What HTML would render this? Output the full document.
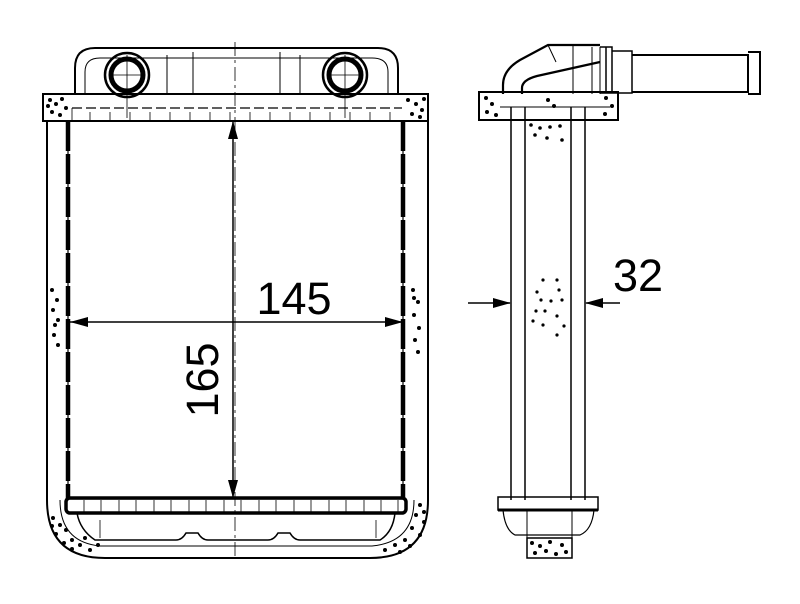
<!DOCTYPE html>
<html><head><meta charset="utf-8"><style>html,body{margin:0;padding:0;background:#fff}svg{display:block}</style></head>
<body>
<svg width="800" height="604" viewBox="0 0 800 604" xmlns="http://www.w3.org/2000/svg" font-family="Liberation Sans, sans-serif">
<g fill="none" stroke="#000" stroke-width="1.5">
<path d="M75 95 V68 Q75 48 95 48 H378 Q398 48 398 68 V95" stroke-width="2"/>
<path d="M85 95 V72 Q85 58 100 58 H372 Q388 58 388 72 V95" stroke-width="1"/>
<path d="M167 95 V55 M193 95 V52 M280 95 V52 M300 95 V55" stroke-width="1"/>
<circle cx="127" cy="75" r="22" stroke-width="2.5"/><circle cx="127" cy="75" r="16" stroke-width="5"/>
<circle cx="345" cy="75" r="22" stroke-width="2.5"/><circle cx="345" cy="75" r="16" stroke-width="5"/>
<path d="M127 55 V118 M110 75 H144 M345 55 V118 M328 75 H362" stroke-width="0.8"/>
<rect x="43" y="94" width="385" height="27" stroke-width="2"/>
<path d="M72 108 H402" stroke-dasharray="10 4" stroke-width="1.2"/>
<path d="M47 121 V500 Q47 558 105 558 H370 Q428 558 428 500 V121" stroke-width="2"/>
<rect x="68" y="121" width="335" height="378" stroke-width="1.2"/>
<path d="M68 121 V499 M403 121 V499" stroke-width="4.5" stroke-dasharray="30 3"/>
<path d="M72 108 V121 M90 112 V121 M110 112 V121 M130 112 V121 M150 112 V121 M170 112 V121 M190 112 V121 M210 112 V121 M230 112 V121 M250 112 V121 M270 112 V121 M290 112 V121 M310 112 V121 M330 112 V121 M350 112 V121 M370 112 V121 M390 112 V121" stroke-width="0.8"/>
<rect x="66" y="498" width="340" height="15" rx="4" stroke-width="3.5"/>
<path d="M84 500 V512 M101 500 V512 M119 500 V512 M136 500 V512 M154 500 V512 M171 500 V512 M189 500 V512 M206 500 V512 M224 500 V512 M241 500 V512 M259 500 V512 M276 500 V512 M294 500 V512 M311 500 V512 M329 500 V512 M346 500 V512 M364 500 V512 M381 500 V512 M398 500 V512" stroke-width="0.8"/>
<path d="M77 513 Q80 530 95 540 H176 Q182 540 186 533 H198 Q202 540 208 540 H268 Q274 540 278 533 H290 Q294 540 300 540 H380 Q393 532 395 513" stroke-width="1.5"/>
<path d="M100 520 V538 M376 520 V538" stroke-width="0.8"/>
<path d="M60 500 Q60 542 100 546 H372 Q414 542 414 500" stroke-width="1"/>
<path d="M235 42 V556" stroke-width="0.8" stroke-dasharray="14 4 3 4"/>
<path d="M233 121 V498 M70 322 H403" stroke-width="1.5"/>
</g>
<g fill="#000">
<path d="M233 121 l-5 18 h10z M233 498 l-5 -18 h10z M70 322 l18 -5 v10z M403 322 l-18 -5 v10z"/>
<text x="294" y="314" font-size="45" text-anchor="middle">145</text>
<text transform="translate(218 380) rotate(-90)" font-size="45" text-anchor="middle">165</text>
</g>
<g fill="none" stroke="#000" stroke-width="1.5">
<path d="M503 94 V85 Q503 70 520 60 L548 45 H600 M522 94 V88 Q522 80 537 76 L600 62" stroke-width="2.2"/>
<path d="M548 45 L556 62 M573 46 V94 M592 47 V94 M600 47 V94" stroke-width="1"/>
<path d="M600 47 H612 V93 H600 M606 47 V93 M612 51 H632 V93 H612" stroke-width="1.5"/>
<path d="M632 55 H748 V92 H632 M748 52 H760 V94 H748" stroke-width="2"/>
<rect x="479" y="92" width="139" height="28" stroke-width="2"/>
<path d="M500 107 H610" stroke-width="1"/>
<path d="M511 107 V500 M525 107 V500 M571 107 V500 M585 107 V500" stroke-width="1.5"/>
<path d="M498 497 H598 V510 H498Z" stroke-width="1.5"/>
<path d="M498 510 H598" stroke-width="3"/>
<path d="M503 510 Q505 530 515 535 H580 Q592 530 594 510" stroke-width="1.2"/>
<rect x="527" y="538" width="45" height="20" stroke-width="1.5"/>
<path d="M527 510 V538 M572 510 V538" stroke-width="1"/>
<path d="M468 303 H510 M586 303 H620" stroke-width="1.5"/>
</g>
<g fill="#000">
<path d="M511 303 l-18 -5 v10z M585 303 l18 -5 v10z"/>
<text x="638" y="291" font-size="45" text-anchor="middle">32</text>
</g>
<g fill="#000">
<circle cx="50" cy="100" r="2"/><circle cx="56" cy="104" r="2"/><circle cx="62" cy="99" r="2"/><circle cx="52" cy="112" r="2"/><circle cx="60" cy="115" r="2"/><circle cx="66" cy="108" r="2"/><circle cx="48" cy="106" r="2"/>
<circle cx="408" cy="100" r="2"/><circle cx="416" cy="104" r="2"/><circle cx="422" cy="110" r="2"/><circle cx="412" cy="114" r="2"/><circle cx="420" cy="117" r="2"/><circle cx="424" cy="99" r="2"/>
<circle cx="52" cy="290" r="2"/><circle cx="57" cy="300" r="2"/><circle cx="53" cy="310" r="2"/><circle cx="58" cy="320" r="2"/><circle cx="54" cy="335" r="2"/><circle cx="58" cy="345" r="2"/><circle cx="55" cy="325" r="2"/>
<circle cx="413" cy="290" r="2"/><circle cx="418" cy="302" r="2"/><circle cx="414" cy="315" r="2"/><circle cx="419" cy="328" r="2"/><circle cx="415" cy="340" r="2"/><circle cx="418" cy="352" r="2"/><circle cx="414" cy="298" r="2"/>
<circle cx="53" cy="518" r="2"/><circle cx="60" cy="525" r="2"/><circle cx="56" cy="534" r="2"/><circle cx="66" cy="530" r="2"/><circle cx="72" cy="540" r="2"/><circle cx="64" cy="543" r="2"/><circle cx="80" cy="545" r="2"/><circle cx="90" cy="550" r="2"/><circle cx="98" cy="545" r="2"/><circle cx="85" cy="538" r="2"/><circle cx="72" cy="549" r="2"/><circle cx="52" cy="526" r="2"/>
<circle cx="420" cy="505" r="2"/><circle cx="416" cy="515" r="2"/><circle cx="424" cy="522" r="2"/><circle cx="412" cy="528" r="2"/><circle cx="420" cy="535" r="2"/><circle cx="405" cy="540" r="2"/><circle cx="395" cy="545" r="2"/><circle cx="385" cy="550" r="2"/><circle cx="410" cy="546" r="2"/><circle cx="400" cy="552" r="2"/><circle cx="424" cy="512" r="2"/>
<circle cx="486" cy="98" r="2"/><circle cx="492" cy="104" r="2"/><circle cx="487" cy="112" r="2"/><circle cx="496" cy="115" r="2"/><circle cx="606" cy="98" r="2"/><circle cx="612" cy="106" r="2"/><circle cx="605" cy="114" r="2"/><circle cx="548" cy="100" r="2"/><circle cx="554" cy="106" r="2"/>
<circle cx="531" cy="125" r="1.8"/><circle cx="540" cy="128" r="1.8"/><circle cx="550" cy="127" r="1.8"/><circle cx="560" cy="126" r="1.8"/><circle cx="535" cy="135" r="1.8"/><circle cx="547" cy="138" r="1.8"/><circle cx="562" cy="140" r="1.8"/>
<circle cx="543" cy="280" r="1.6"/><circle cx="557" cy="280" r="1.6"/><circle cx="537" cy="292" r="1.6"/><circle cx="559" cy="290" r="1.6"/><circle cx="541" cy="300" r="1.6"/><circle cx="551" cy="301" r="1.6"/><circle cx="562" cy="300" r="1.6"/><circle cx="536" cy="311" r="1.6"/><circle cx="545" cy="311" r="1.6"/><circle cx="557" cy="316" r="1.6"/><circle cx="533" cy="321" r="1.6"/><circle cx="543" cy="325" r="1.6"/><circle cx="564" cy="326" r="1.6"/><circle cx="557" cy="335" r="1.6"/>
<circle cx="532" cy="543" r="2"/><circle cx="540" cy="546" r="2"/><circle cx="550" cy="542" r="2"/><circle cx="562" cy="545" r="2"/><circle cx="535" cy="553" r="2"/><circle cx="546" cy="551" r="2"/><circle cx="556" cy="554" r="2"/><circle cx="566" cy="552" r="2"/>
</g>
</svg>
</body></html>
